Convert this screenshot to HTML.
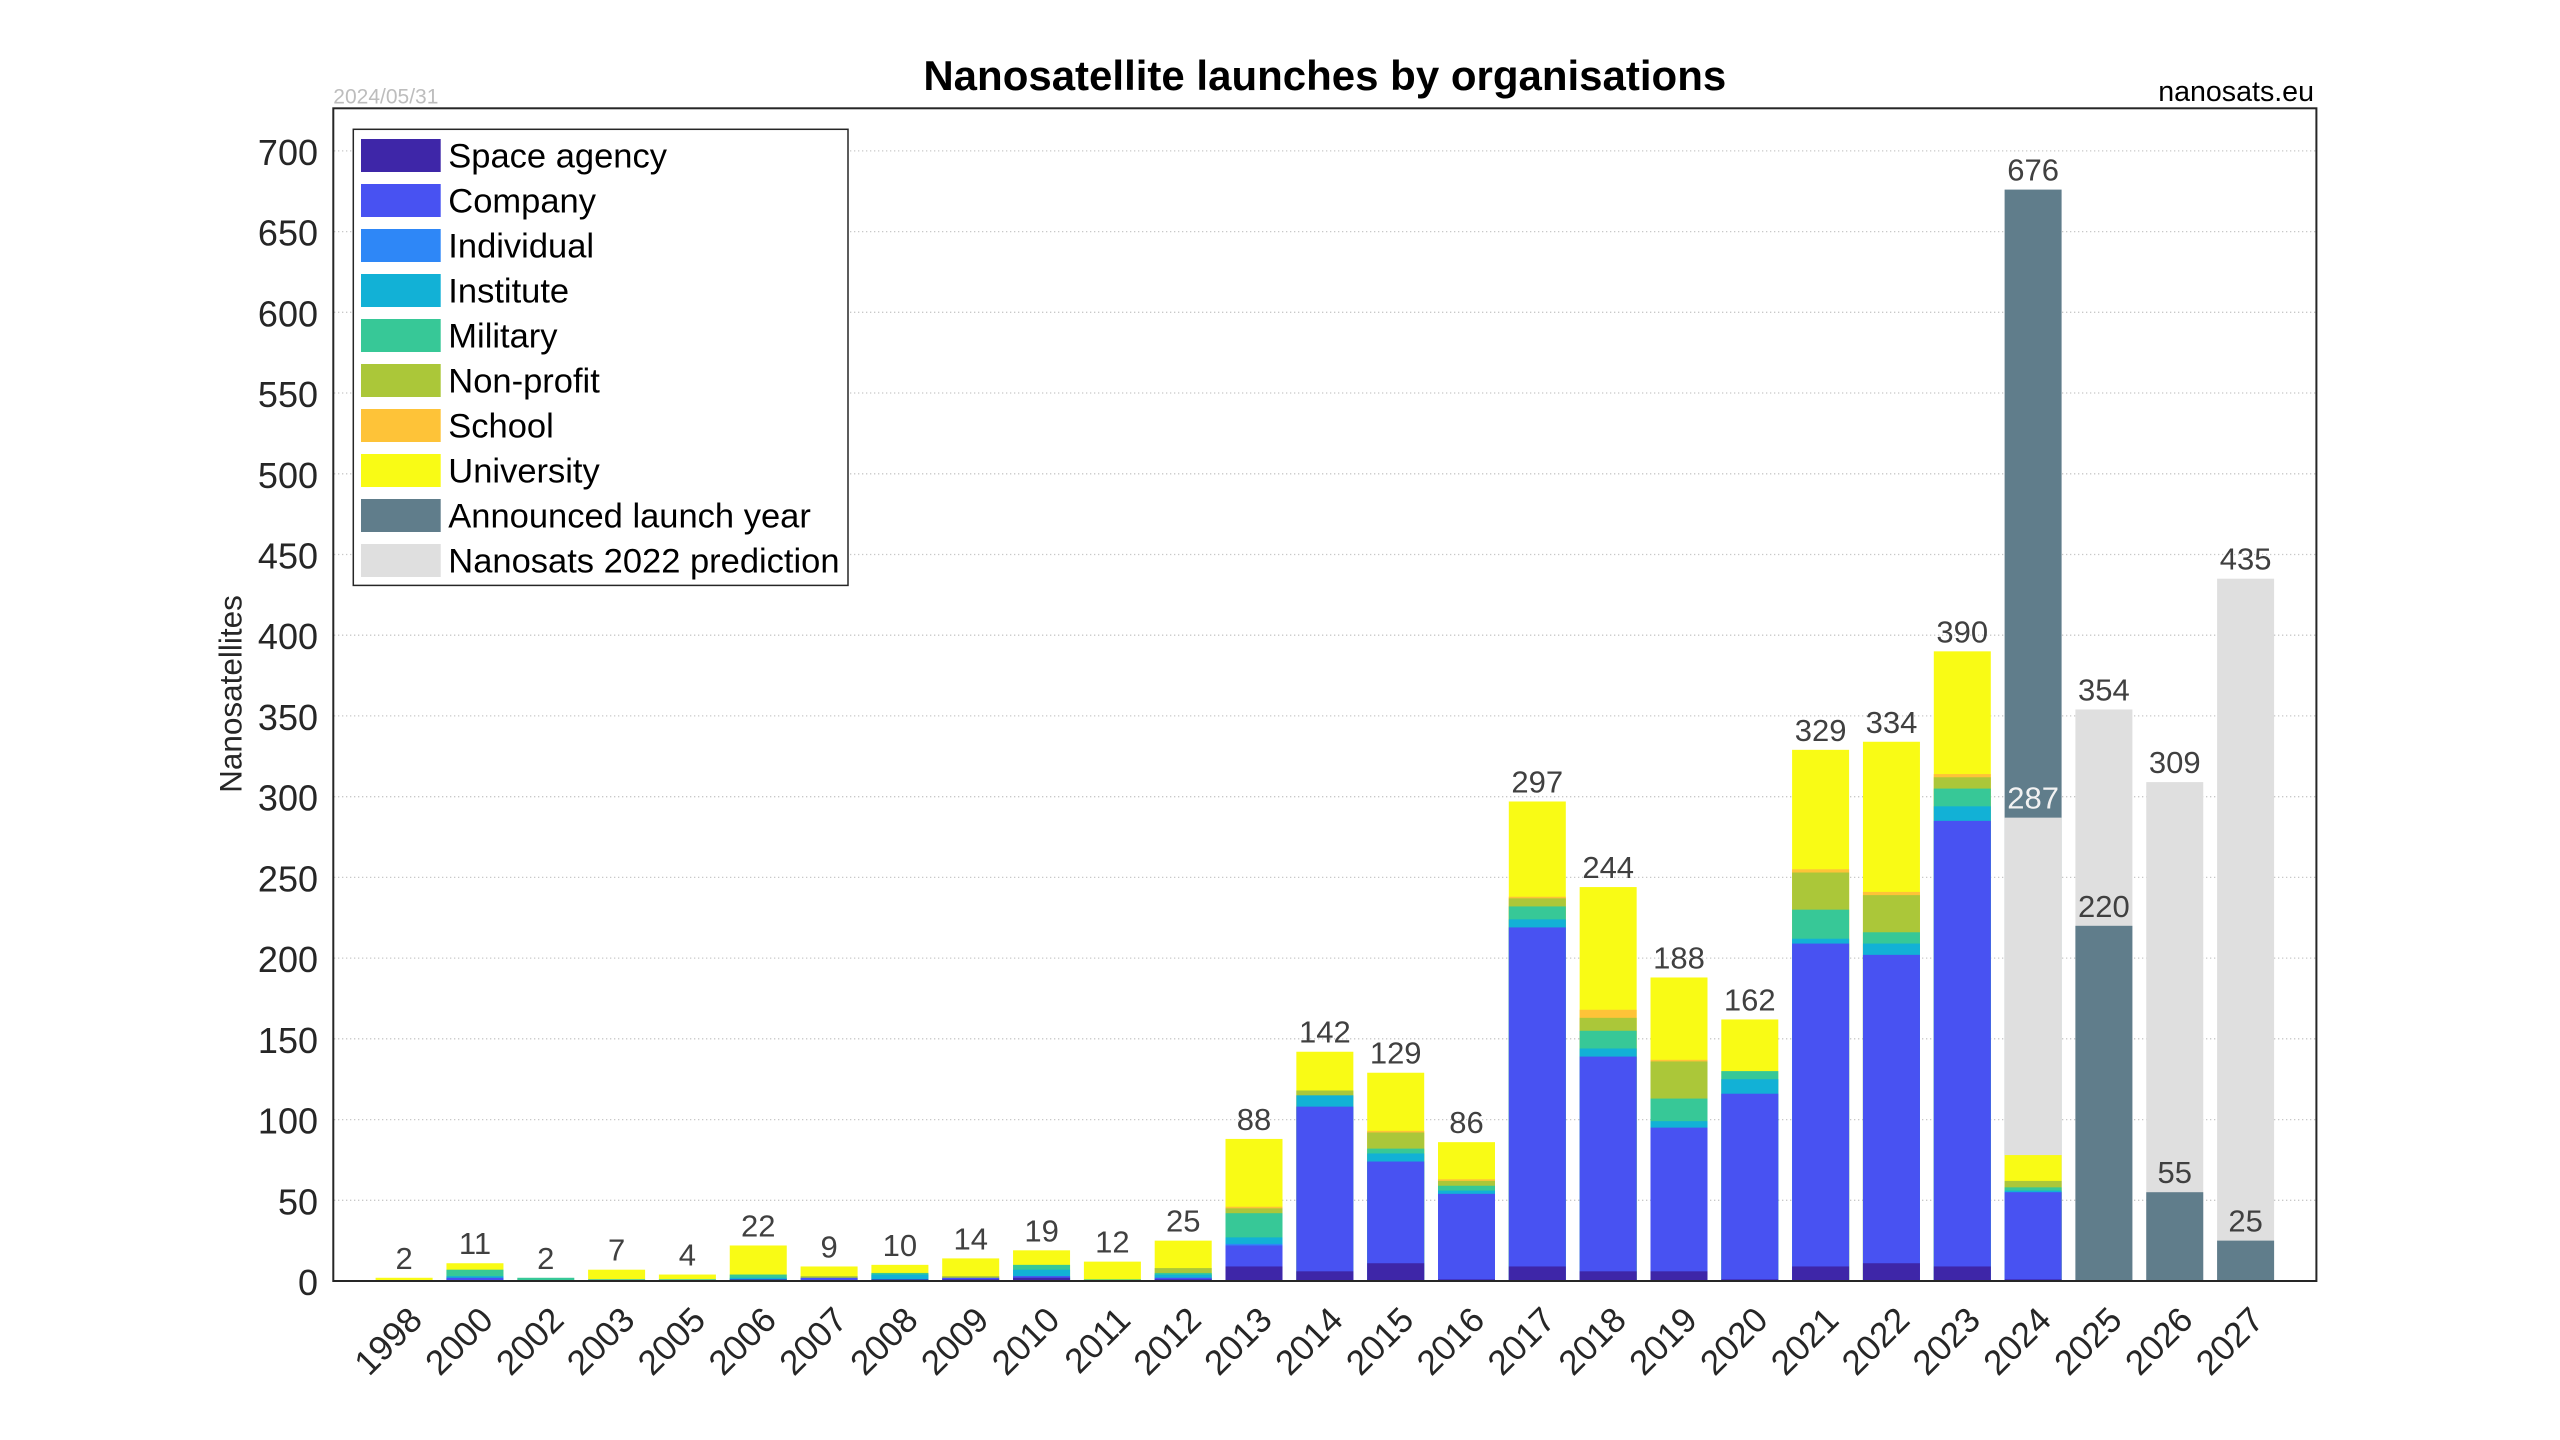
<!DOCTYPE html>
<html><head><meta charset="utf-8"><style>
html,body{margin:0;padding:0;background:#fff;}
svg{display:block;font-family:"Liberation Sans",Arial,sans-serif;}
.a{fill:#3E26A8}.b{fill:#4852F2}.c{fill:#2E87F7}.d{fill:#12B1D6}.e{fill:#37C897}.f{fill:#ABC739}.g{fill:#FEC338}.h{fill:#F9FB15}.k{fill:#607D8B}.p{fill:#DFDFDF}
.yt{font-size:36px;fill:#262626;text-anchor:end}
.xt{font-size:35px;fill:#262626;text-anchor:end}
.bl{font-size:31px;fill:#404040;text-anchor:middle}
.lg{font-size:34.5px;fill:#000}
</style></head><body>
<svg width="2560" height="1440" viewBox="0 0 2560 1440" xmlns="http://www.w3.org/2000/svg">
<rect x="0" y="0" width="2560" height="1440" fill="#fff"/>
<g stroke="#c8c8c8" stroke-width="1.3" stroke-dasharray="1.3,2.7">
<line x1="334" x2="2316" y1="1200.3" y2="1200.3"/>
<line x1="334" x2="2316" y1="1119.6" y2="1119.6"/>
<line x1="334" x2="2316" y1="1038.8" y2="1038.8"/>
<line x1="334" x2="2316" y1="958.1" y2="958.1"/>
<line x1="334" x2="2316" y1="877.4" y2="877.4"/>
<line x1="334" x2="2316" y1="796.7" y2="796.7"/>
<line x1="334" x2="2316" y1="715.9" y2="715.9"/>
<line x1="334" x2="2316" y1="635.2" y2="635.2"/>
<line x1="334" x2="2316" y1="554.5" y2="554.5"/>
<line x1="334" x2="2316" y1="473.8" y2="473.8"/>
<line x1="334" x2="2316" y1="393" y2="393"/>
<line x1="334" x2="2316" y1="312.3" y2="312.3"/>
<line x1="334" x2="2316" y1="231.6" y2="231.6"/>
<line x1="334" x2="2316" y1="150.9" y2="150.9"/>
</g>
<g transform="translate(0,1281) scale(1,-1.6145)">
<g transform="translate(375.6,0)"><rect class="h" width="57" height="2"/></g>
<g transform="translate(446.45,0)"><rect class="h" width="57" height="11"/><rect class="e" width="57" height="7"/><rect class="d" width="57" height="3"/><rect class="b" width="57" height="2"/></g>
<g transform="translate(517.3,0)"><rect class="e" width="57" height="2"/></g>
<g transform="translate(588.1,0)"><rect class="h" width="57" height="7"/><rect class="d" width="57" height="1"/></g>
<g transform="translate(658.9,0)"><rect class="h" width="57" height="4"/><rect class="d" width="57" height="1"/></g>
<g transform="translate(729.75,0)"><rect class="h" width="57" height="22"/><rect class="e" width="57" height="4"/><rect class="d" width="57" height="2"/><rect class="a" width="57" height="1"/></g>
<g transform="translate(800.6,0)"><rect class="h" width="57" height="9"/><rect class="f" width="57" height="3"/><rect class="b" width="57" height="2"/></g>
<g transform="translate(871.4,0)"><rect class="h" width="57" height="10"/><rect class="e" width="57" height="5"/><rect class="d" width="57" height="4"/><rect class="a" width="57" height="1"/></g>
<g transform="translate(942.2,0)"><rect class="h" width="57" height="14"/><rect class="f" width="57" height="3"/><rect class="b" width="57" height="2"/><rect class="a" width="57" height="1"/></g>
<g transform="translate(1013.05,0)"><rect class="h" width="57" height="19"/><rect class="e" width="57" height="10"/><rect class="d" width="57" height="7"/><rect class="b" width="57" height="3"/><rect class="a" width="57" height="2"/></g>
<g transform="translate(1083.9,0)"><rect class="h" width="57" height="12"/><rect class="e" width="57" height="1"/></g>
<g transform="translate(1154.7,0)"><rect class="h" width="57" height="25"/><rect class="f" width="57" height="8"/><rect class="e" width="57" height="5"/><rect class="d" width="57" height="4"/><rect class="b" width="57" height="2"/><rect class="a" width="57" height="1"/></g>
<g transform="translate(1225.5,0)"><rect class="h" width="57" height="88"/><rect class="g" width="57" height="46"/><rect class="f" width="57" height="45"/><rect class="e" width="57" height="42"/><rect class="d" width="57" height="27"/><rect class="c" width="57" height="23"/><rect class="b" width="57" height="22"/><rect class="a" width="57" height="9"/></g>
<g transform="translate(1296.35,0)"><rect class="h" width="57" height="142"/><rect class="f" width="57" height="118"/><rect class="d" width="57" height="115"/><rect class="b" width="57" height="108"/><rect class="a" width="57" height="6"/></g>
<g transform="translate(1367.2,0)"><rect class="h" width="57" height="129"/><rect class="g" width="57" height="93"/><rect class="f" width="57" height="92"/><rect class="e" width="57" height="82"/><rect class="d" width="57" height="79"/><rect class="b" width="57" height="74"/><rect class="a" width="57" height="11"/></g>
<g transform="translate(1438,0)"><rect class="h" width="57" height="86"/><rect class="g" width="57" height="63"/><rect class="f" width="57" height="62"/><rect class="e" width="57" height="59"/><rect class="d" width="57" height="56"/><rect class="b" width="57" height="54"/><rect class="a" width="57" height="1"/></g>
<g transform="translate(1508.8,0)"><rect class="h" width="57" height="297"/><rect class="g" width="57" height="238"/><rect class="f" width="57" height="237"/><rect class="e" width="57" height="232"/><rect class="d" width="57" height="224"/><rect class="b" width="57" height="219"/><rect class="a" width="57" height="9"/></g>
<g transform="translate(1579.65,0)"><rect class="h" width="57" height="244"/><rect class="g" width="57" height="168"/><rect class="f" width="57" height="163"/><rect class="e" width="57" height="155"/><rect class="d" width="57" height="144"/><rect class="b" width="57" height="139"/><rect class="a" width="57" height="6"/></g>
<g transform="translate(1650.5,0)"><rect class="h" width="57" height="188"/><rect class="g" width="57" height="137"/><rect class="f" width="57" height="136"/><rect class="e" width="57" height="113"/><rect class="d" width="57" height="99"/><rect class="b" width="57" height="95"/><rect class="a" width="57" height="6"/></g>
<g transform="translate(1721.3,0)"><rect class="h" width="57" height="162"/><rect class="e" width="57" height="130"/><rect class="d" width="57" height="125"/><rect class="b" width="57" height="116"/><rect class="a" width="57" height="1"/></g>
<g transform="translate(1792.1,0)"><rect class="h" width="57" height="329"/><rect class="g" width="57" height="255"/><rect class="f" width="57" height="253"/><rect class="e" width="57" height="230"/><rect class="d" width="57" height="212"/><rect class="b" width="57" height="209"/><rect class="a" width="57" height="9"/></g>
<g transform="translate(1862.95,0)"><rect class="h" width="57" height="334"/><rect class="g" width="57" height="241"/><rect class="f" width="57" height="239"/><rect class="e" width="57" height="216"/><rect class="d" width="57" height="209"/><rect class="b" width="57" height="202"/><rect class="a" width="57" height="11"/></g>
<g transform="translate(1933.8,0)"><rect class="h" width="57" height="390"/><rect class="g" width="57" height="314"/><rect class="f" width="57" height="312"/><rect class="e" width="57" height="305"/><rect class="d" width="57" height="294"/><rect class="b" width="57" height="285"/><rect class="a" width="57" height="9"/></g>
<g transform="translate(2004.6,0)"><rect class="k" width="57" height="676"/><rect class="p" width="57" height="287"/><rect class="h" width="57" height="78"/><rect class="f" width="57" height="62"/><rect class="e" width="57" height="58"/><rect class="d" width="57" height="56"/><rect class="b" width="57" height="55"/><rect class="a" width="57" height="1"/></g>
<g transform="translate(2075.4,0)"><rect class="p" width="57" height="354"/><rect class="k" width="57" height="220"/></g>
<g transform="translate(2146.25,0)"><rect class="p" width="57" height="309"/><rect class="k" width="57" height="55"/></g>
<g transform="translate(2217.1,0)"><rect class="p" width="57" height="435"/><rect class="k" width="57" height="25"/></g>
</g>
<g class="bl">
<text x="404.1" y="1268.8" class="bl">2</text>
<text x="475" y="1254.2" class="bl">11</text>
<text x="545.8" y="1268.8" class="bl">2</text>
<text x="616.6" y="1260.7" class="bl">7</text>
<text x="687.4" y="1265.5" class="bl">4</text>
<text x="758.3" y="1236.5" class="bl">22</text>
<text x="829.1" y="1257.5" class="bl">9</text>
<text x="899.9" y="1255.9" class="bl">10</text>
<text x="970.7" y="1249.4" class="bl">14</text>
<text x="1041.6" y="1241.3" class="bl">19</text>
<text x="1112.4" y="1252.6" class="bl">12</text>
<text x="1183.2" y="1231.6" class="bl">25</text>
<text x="1254" y="1129.9" class="bl">88</text>
<text x="1324.9" y="1042.7" class="bl">142</text>
<text x="1395.7" y="1063.7" class="bl">129</text>
<text x="1466.5" y="1133.2" class="bl">86</text>
<text x="1537.3" y="792.5" class="bl">297</text>
<text x="1608.2" y="878.1" class="bl">244</text>
<text x="1679" y="968.5" class="bl">188</text>
<text x="1749.8" y="1010.5" class="bl">162</text>
<text x="1820.6" y="740.8" class="bl">329</text>
<text x="1891.5" y="732.8" class="bl">334</text>
<text x="1962.3" y="642.3" class="bl">390</text>
<text x="2033.1" y="180.6" class="bl">676</text>
<text x="2033.1" y="808.6" class="bl" style="fill:#f2f2f2">287</text>
<text x="2103.9" y="700.5" class="bl">354</text>
<text x="2103.9" y="916.8" class="bl">220</text>
<text x="2174.8" y="773.1" class="bl">309</text>
<text x="2174.8" y="1183.2" class="bl">55</text>
<text x="2245.6" y="569.7" class="bl">435</text>
<text x="2245.6" y="1231.6" class="bl">25</text>
</g>
<rect x="333.3" y="108.3" width="1983.1" height="1172.7" fill="none" stroke="#262626" stroke-width="2"/>
<g>
<text class="yt" x="318" y="1295">0</text>
<text class="yt" x="318" y="1214.3">50</text>
<text class="yt" x="318" y="1133.6">100</text>
<text class="yt" x="318" y="1052.8">150</text>
<text class="yt" x="318" y="972.1">200</text>
<text class="yt" x="318" y="891.4">250</text>
<text class="yt" x="318" y="810.7">300</text>
<text class="yt" x="318" y="729.9">350</text>
<text class="yt" x="318" y="649.2">400</text>
<text class="yt" x="318" y="568.5">450</text>
<text class="yt" x="318" y="487.8">500</text>
<text class="yt" x="318" y="407">550</text>
<text class="yt" x="318" y="326.3">600</text>
<text class="yt" x="318" y="245.6">650</text>
<text class="yt" x="318" y="164.9">700</text>
</g>
<g>
<text class="xt" transform="translate(424.1,1322) rotate(-45)">1998</text>
<text class="xt" transform="translate(495,1322) rotate(-45)">2000</text>
<text class="xt" transform="translate(565.8,1322) rotate(-45)">2002</text>
<text class="xt" transform="translate(636.6,1322) rotate(-45)">2003</text>
<text class="xt" transform="translate(707.4,1322) rotate(-45)">2005</text>
<text class="xt" transform="translate(778.3,1322) rotate(-45)">2006</text>
<text class="xt" transform="translate(849.1,1322) rotate(-45)">2007</text>
<text class="xt" transform="translate(919.9,1322) rotate(-45)">2008</text>
<text class="xt" transform="translate(990.7,1322) rotate(-45)">2009</text>
<text class="xt" transform="translate(1061.6,1322) rotate(-45)">2010</text>
<text class="xt" transform="translate(1132.4,1322) rotate(-45)">2011</text>
<text class="xt" transform="translate(1203.2,1322) rotate(-45)">2012</text>
<text class="xt" transform="translate(1274,1322) rotate(-45)">2013</text>
<text class="xt" transform="translate(1344.9,1322) rotate(-45)">2014</text>
<text class="xt" transform="translate(1415.7,1322) rotate(-45)">2015</text>
<text class="xt" transform="translate(1486.5,1322) rotate(-45)">2016</text>
<text class="xt" transform="translate(1557.3,1322) rotate(-45)">2017</text>
<text class="xt" transform="translate(1628.2,1322) rotate(-45)">2018</text>
<text class="xt" transform="translate(1699,1322) rotate(-45)">2019</text>
<text class="xt" transform="translate(1769.8,1322) rotate(-45)">2020</text>
<text class="xt" transform="translate(1840.6,1322) rotate(-45)">2021</text>
<text class="xt" transform="translate(1911.5,1322) rotate(-45)">2022</text>
<text class="xt" transform="translate(1982.3,1322) rotate(-45)">2023</text>
<text class="xt" transform="translate(2053.1,1322) rotate(-45)">2024</text>
<text class="xt" transform="translate(2123.9,1322) rotate(-45)">2025</text>
<text class="xt" transform="translate(2194.8,1322) rotate(-45)">2026</text>
<text class="xt" transform="translate(2265.6,1322) rotate(-45)">2027</text>
</g>
<text transform="translate(241.5,694) rotate(-90)" text-anchor="middle" font-size="31.5" fill="#262626">Nanosatellites</text>
<text x="1324.8" y="90" text-anchor="middle" font-size="42" font-weight="bold" fill="#000">Nanosatellite launches by organisations</text>
<text x="2314" y="101" text-anchor="end" font-size="28.6" fill="#000">nanosats.eu</text>
<text x="333.3" y="103.3" font-size="21" fill="#bdbdbd">2024/05/31</text>
<rect x="353.3" y="129.3" width="494.7" height="456.1" fill="#fff" stroke="#262626" stroke-width="1.5"/>
<rect class="a" x="361" y="139" width="79.7" height="33"/>
<rect class="b" x="361" y="184" width="79.7" height="33"/>
<rect class="c" x="361" y="229" width="79.7" height="33"/>
<rect class="d" x="361" y="274" width="79.7" height="33"/>
<rect class="e" x="361" y="319" width="79.7" height="33"/>
<rect class="f" x="361" y="364" width="79.7" height="33"/>
<rect class="g" x="361" y="409" width="79.7" height="33"/>
<rect class="h" x="361" y="454" width="79.7" height="33"/>
<rect class="k" x="361" y="499" width="79.7" height="33"/>
<rect class="p" x="361" y="544" width="79.7" height="33"/>
<text class="lg" x="448.3" y="167.7">Space agency</text>
<text class="lg" x="448.3" y="212.7">Company</text>
<text class="lg" x="448.3" y="257.7">Individual</text>
<text class="lg" x="448.3" y="302.7">Institute</text>
<text class="lg" x="448.3" y="347.7">Military</text>
<text class="lg" x="448.3" y="392.7">Non-profit</text>
<text class="lg" x="448.3" y="437.7">School</text>
<text class="lg" x="448.3" y="482.7">University</text>
<text class="lg" x="448.3" y="527.7">Announced launch year</text>
<text class="lg" x="448.3" y="572.7">Nanosats 2022 prediction</text>
</svg>
</body></html>
